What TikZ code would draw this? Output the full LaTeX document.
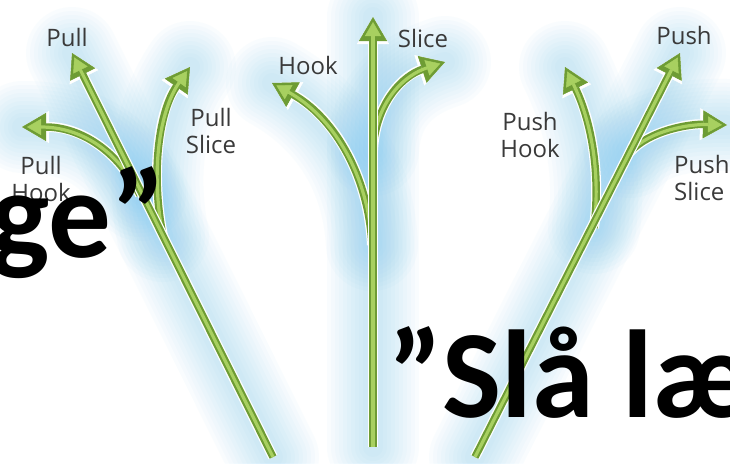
\documentclass[tikz,border=0pt]{standalone}
\usepackage{fontspec}
\setmainfont{Open Sans}
\newfontfamily\bigfont{Carlito}
\usetikzlibrary{arrows.meta}
\definecolor{gdark}{RGB}{110,156,52}
\definecolor{glight}{RGB}{168,208,96}
\definecolor{glowblue}{RGB}{110,195,242}
\definecolor{lblgray}{RGB}{58,58,58}
\newcommand\glowpath[1]{%
  \foreach \w in {92,84,76,68,60,52,44,36,28,20}{%
    \draw[glowblue,line width=\w pt,opacity=0.035,line cap=round] #1;}}
\newcommand\greenpath[1]{%
  \draw[white,line width=10pt,-{Triangle[length=27pt,width=32pt,line width=0.5pt]}] #1;
  \draw[gdark,line width=7.5pt,-{Triangle[length=24pt,width=28pt,line width=0.5pt]}] #1;
  \draw[glight,line width=3.2pt,shorten >=5pt,-{Triangle[length=14pt,width=16pt,line width=0.5pt]}] #1;}
\tikzset{
  lbl/.style={text=lblgray,font=\fontsize{24}{27}\selectfont,align=center,inner sep=0pt},
  bigtxt/.style={text=black,font=\bigfont\bfseries\fontsize{125}{130}\selectfont,inner sep=0pt}
}
\begin{document}
\begin{tikzpicture}[x=1pt,y=-1pt]
\fill[white] (0,0) rectangle (730,463);
\useasboundingbox (0,0) rectangle (730,463);
% ---- coordinates ----
% left fan
\coordinate (LB) at (273,457);
\coordinate (LPt) at (72,53);
\coordinate (LHs) at (140,195);
\coordinate (LHt) at (22,127);
\coordinate (LSs) at (163,236);
\coordinate (LSt) at (190,67);
% middle fan
\coordinate (MB) at (373,447);
\coordinate (MT) at (373,17);
\coordinate (MHs) at (372,245);
\coordinate (MHt) at (272,83);
\coordinate (MSs) at (373,150);
\coordinate (MSt) at (445,62);
% right fan
\coordinate (RB) at (475,457);
\coordinate (RPt) at (680,53);
\coordinate (RHs) at (594,228);
\coordinate (RHt) at (565,67);
\coordinate (RSs) at (630,152);
\coordinate (RSt) at (727,125);
% ---- glow ----
\glowpath{(LB) -- (LPt)}
\glowpath{(LHs) .. controls (115,145) and (75,127) .. (LHt)}
\glowpath{(LSs) .. controls (150,170) and (160,110) .. (LSt)}
\glowpath{(MB) -- (MT)}
\glowpath{(MHs) .. controls (368,170) and (330,115) .. (MHt)}
\glowpath{(MSs) .. controls (376,100) and (405,75) .. (MSt)}
\glowpath{(RB) -- (RPt)}
\glowpath{(RHs) .. controls (602,160) and (586,110) .. (RHt)}
\glowpath{(RSs) .. controls (650,130) and (690,124) .. (RSt)}
% ---- arrows ----
\greenpath{(LHs) .. controls (115,145) and (75,127) .. (LHt)}
\greenpath{(LSs) .. controls (150,170) and (160,110) .. (LSt)}
\greenpath{(LB) -- (LPt)}
\greenpath{(MHs) .. controls (368,170) and (330,115) .. (MHt)}
\greenpath{(MSs) .. controls (376,100) and (405,75) .. (MSt)}
\greenpath{(MB) -- (MT)}
\greenpath{(RHs) .. controls (602,160) and (586,110) .. (RHt)}
\greenpath{(RSs) .. controls (650,130) and (690,124) .. (RSt)}
\greenpath{(RB) -- (RPt)}
% ---- labels ----
\node[lbl] (pull) at (67,37) {Pull};
\node[lbl] (pullslice) at (211,131) {Pull\\Slice};
\node[lbl] (pullhook) at (41,179) {Pull\\Hook};
\node[lbl] (hook) at (308,65) {Hook};
\node[lbl] (slice) at (423,38) {Slice};
\node[lbl] (push) at (684,35) {Push};
\node[lbl] (pushhook) at (530,135) {Push\\Hook};
\node[lbl,anchor=west,align=left] (pushslice) at (674,178) {Push\\Slice};
% ---- big text ----
\node[bigtxt,anchor=base east] (ge) at (166,257) {ge”};
\node[bigtxt,anchor=base west] (sla) at (388,417) {”Slå læ};
\end{tikzpicture}
\end{document}
